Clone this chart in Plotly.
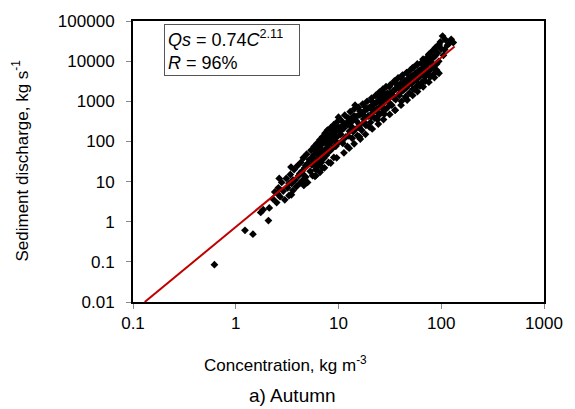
import plotly.graph_objects as go

# Observed points: concentration C (kg m-3) and sediment discharge Qs (kg s-1)
conc = [0.62, 1.23, 1.47, 1.75, 1.85, 2.08, 2.12, 2.3,
        2.4, 2.5, 2.6, 2.7, 2.8, 2.9, 3.0, 3.1, 3.2, 3.3, 3.4, 3.5, 3.6, 3.7, 3.8, 3.9,
        4.0, 4.1, 4.2, 4.3, 4.4, 4.5, 4.6, 4.7, 4.8, 4.9, 5.0, 5.0,
        5.2, 5.3, 5.4, 5.5, 5.6, 5.7, 5.8, 5.9, 6.0, 6.0, 6.1, 6.2, 6.3, 6.4, 6.5, 6.6, 6.7,
        6.8, 6.9, 7.0, 7.0, 7.1, 7.2, 7.3, 7.4, 7.5, 7.6, 7.7, 7.8, 7.9, 8.0, 8.0, 8.2, 8.4,
        8.5, 8.6, 8.8, 9.0, 9.0, 9.1, 9.2, 9.4, 9.6, 9.7, 9.8, 10, 10,
        10.5, 10.8, 11, 11.2, 11.5, 11.8, 12, 12.2, 12.5, 12.8, 13, 13.3, 13.6, 14, 14.3,
        14.5, 14.6, 15, 15.3, 15.6, 16, 16, 16.4, 16.8, 17.2, 17.6, 18, 18.5, 19, 19.5, 20,
        20, 20.5, 21, 21.5, 22, 22.5, 23, 23.5, 24, 24, 24.5, 25, 25.5, 26, 26.5, 27, 27.5,
        28, 28, 28.5, 29, 29.5, 30, 30,
        31, 32, 33, 34, 35, 35.6, 36, 37, 38, 39, 40, 41, 42, 43, 44, 45, 45, 46, 47, 48, 49,
        50, 51, 52, 53, 54, 55, 55, 56, 57, 58, 59, 60, 60,
        62, 62, 64, 65, 66, 68, 69, 70, 70, 72, 73, 75, 77, 78, 78, 80, 82, 84, 85, 86, 88,
        90, 90, 92, 95, 95, 98, 100, 103, 105, 108, 110, 115, 120, 125, 131,
        3.3, 3.6, 4.2, 4.8, 5.5, 6.2, 6.9, 7.5, 8.1, 8.7, 9.3, 10.2, 10.8, 11.5, 12.3, 13,
        13.8, 14.8, 15.8, 17, 18, 19, 20.5, 22, 23, 25, 26.5, 28, 30, 32, 34, 36, 38, 40,
        43, 47, 50, 53, 57, 62, 67, 72, 80, 88,
        2.65, 2.55, 3.45, 3.55, 3.48, 4.55, 4.45, 4.6, 5.85, 5.75, 5.9, 6.55, 6.45, 6.6,
        7.25, 7.15, 7.3, 8.35, 8.25, 8.4, 9.55, 9.45, 9.6, 11.1, 10.9, 11.3, 12.6, 12.4, 12.7,
        14.1, 13.9, 14.2, 16.2, 15.9, 16.3, 18.2, 17.8, 18.3, 21.2, 20.8, 21.3, 24.3, 23.8,
        24.4, 27.3, 26.8, 27.4, 31.3, 30.8, 31.5, 35.4, 34.7, 35.5, 40.5, 39.6, 40.6, 46.5,
        45.6, 46.6, 52.5, 51.6, 52.7, 58.5, 57.6, 58.7, 66.5, 65.5, 66.7, 75.5, 74.5, 75.7,
        85.5, 84.5, 85.8, 95.5, 94.5]
qs = [0.085, 0.61, 0.49, 1.7, 2.0, 1.07, 2.2, 3.7,
      5.5, 3.0, 7.0, 4.2, 9.5, 5.8, 3.5, 12, 7.0, 4.5, 15, 9, 6, 20, 11, 7.5,
      25, 14, 9, 30, 18, 11, 40, 22, 13, 48, 28, 9.5,
      35, 18, 60, 26, 14, 45, 75, 30, 20, 14, 55, 90, 38, 25, 70, 110, 45,
      30, 85, 130, 22, 55, 38, 100, 160, 65, 45, 120, 190, 80, 55, 30, 140, 220,
      95, 65, 170, 260, 40, 110, 75, 200, 300, 130, 90, 230, 400,
      150, 320, 90, 210, 450, 130, 280, 75, 380, 180, 550, 240, 120, 420, 650,
      800, 200, 320, 140, 700, 260, 130, 480, 190, 850, 360, 580, 250, 1000, 430, 700,
      230, 300, 1200, 520, 850, 380, 1400, 620, 1000, 350, 440, 1700, 750, 1200, 520, 2000, 900,
      1400, 480, 620, 2300, 1050, 1600, 700,
      1200, 2600, 800, 1800, 3200, 600, 1100, 2200, 3800, 1400, 2700, 1000, 4500, 1900, 3200, 1300, 1200, 5200, 2400, 3800, 1600,
      6000, 2900, 4300, 2000, 7000, 3300, 2000, 5000, 2300, 8000, 3800, 5600, 2600,
      4200, 2400, 9000, 3000, 6000, 10500, 4000, 7500, 3200, 12000, 5000, 9000, 15000, 6000, 4000, 11000, 18000, 7000, 4800, 13000, 22000,
      8500, 6000, 16000, 26000, 5000, 30000, 20000, 42000, 14000, 19500, 34000, 25000, 28000, 35000, 29000,
      9, 11, 16, 25, 38, 55, 60, 95, 100, 120, 140, 180, 200, 250, 260, 300,
      330, 420, 450, 520, 420, 640, 700, 650, 900, 1000, 1300, 1100, 1300, 1600, 1400, 2000, 2500, 2000,
      2600, 3000, 4000, 3600, 5000, 6000, 7000, 8500, 9500, 14000,
      12, 5, 23, 9.4, 4.7, 39, 16, 8, 66, 27, 13.5, 84, 34, 17,
      105, 43, 22, 140, 58, 29, 190, 77, 39, 255, 104, 52, 335, 137, 68,
      430, 175, 87, 565, 230, 115, 725, 300, 150, 1000, 410, 205, 1330, 545,
      270, 1700, 700, 350, 2290, 940, 470, 2950, 1200, 600, 3900, 1600, 800, 5200,
      2150, 1070, 6800, 2800, 1400, 8500, 3500, 1750, 11200, 4600, 2300, 14700, 6000, 3000,
      19000, 7800, 3900, 24000, 9900]

# Fitted power law Qs = a * C^b
fit_a = 0.74
fit_b = 2.11
fit_c_range = [0.13, 135]
fit_qs = [fit_a * c ** fit_b for c in fit_c_range]

x_tick_vals = [0.1, 1, 10, 100, 1000]
x_tick_text = ["0.1", "1", "10", "100", "1000"]
y_tick_vals = [0.01, 0.1, 1, 10, 100, 1000, 10000, 100000]
y_tick_text = ["0.01", "0.1", "1", "10", "100", "1000", "10000", "100000"]

FONT = "Arial, Liberation Sans, sans-serif"

fig = go.Figure()
fig.add_trace(go.Scatter(x=conc, y=qs, mode="markers",
                         marker=dict(symbol="diamond", size=6, color="black", line=dict(width=0)),
                         showlegend=False, cliponaxis=True))
fig.add_trace(go.Scatter(x=fit_c_range, y=fit_qs, mode="lines",
                         line=dict(color="#C00000", width=2), showlegend=False))

axis_common = dict(showgrid=False, zeroline=False, showline=True, linecolor="black", linewidth=2,
                   mirror=True, ticks="outside", ticklen=5, tickcolor="#888888", tickwidth=1,
                   tickfont=dict(family=FONT, size=17, color="black"))
fig.update_xaxes(type="log", range=[-1, 3], tickvals=x_tick_vals, ticktext=x_tick_text, **axis_common)
fig.update_yaxes(type="log", range=[-2, 5], tickvals=y_tick_vals, ticktext=y_tick_text,
                 ticklabelstandoff=8, **axis_common)

fig.update_layout(
    width=575, height=409,
    margin=dict(l=133, r=20, t=16, b=107),
    plot_bgcolor="white", paper_bgcolor="white",
    font=dict(family=FONT, color="black"),
    annotations=[
        dict(text="<i>Qs</i> = 0.74<i>C</i><sup>2.11</sup><br><i>R</i> = 96%",
             xref="paper", yref="paper", x=(165 - 133) / 422, y=(302 - 19) / 286,
             xanchor="left", yanchor="top", showarrow=False, align="left",
             width=128, height=44, valign="middle",
             font=dict(family=FONT, size=18), bordercolor="#555555", borderwidth=1,
             borderpad=3, bgcolor="white"),
        dict(text="Concentration, kg m<sup>-3</sup>", xref="paper", yref="paper",
             x=(290 - 133) / 422, y=(302 - 365) / 286, xanchor="center", yanchor="middle",
             showarrow=False, font=dict(family=FONT, size=17)),
        dict(text="a) Autumn", xref="paper", yref="paper",
             x=(297 - 133) / 422, y=(302 - 397) / 286, xanchor="center", yanchor="middle",
             showarrow=False, font=dict(family=FONT, size=19)),
        dict(text="Sediment discharge, kg s<sup>-1</sup>", xref="paper", yref="paper",
             x=(17 - 133) / 422, y=(302 - 158) / 286, xanchor="center", yanchor="middle",
             textangle=-90, showarrow=False, font=dict(family=FONT, size=17)),
    ],
)

fig.write_html("out.html", config={"displayModeBar": False},
               post_script="document.body.style.margin='0px';document.body.style.overflow='hidden';")
